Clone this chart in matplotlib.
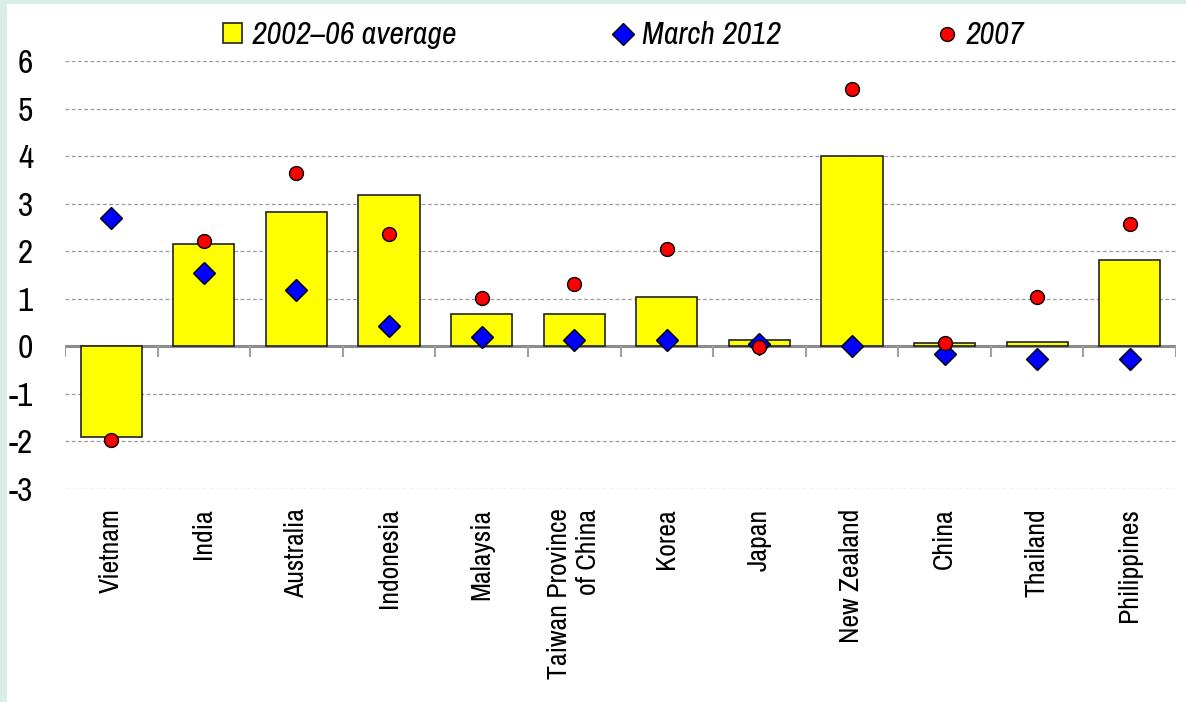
import numpy as np
import matplotlib.pyplot as plt
from matplotlib.patches import Rectangle

plt.rcParams['font.family'] = ['Archivo Narrow', 'DejaVu Sans']
plt.rcParams['axes.unicode_minus'] = False

countries = ['Vietnam', 'India', 'Australia', 'Indonesia', 'Malaysia',
             'Taiwan Province\nof China', 'Korea', 'Japan', 'New Zealand',
             'China', 'Thailand', 'Philippines']
avg_2002_06 = [-1.9, 2.15, 2.82, 3.18, 0.67, 0.69, 1.03, 0.13, 4.0, 0.07, 0.09, 1.81]
march_2012 = [2.69, 1.54, 1.18, 0.42, 0.19, 0.13, 0.13, 0.04, 0.0, -0.17, -0.27, -0.27]
y_2007 = [-1.96, 2.21, 3.64, 2.36, 1.01, 1.31, 2.04, -0.02, 5.41, 0.06, 1.04, 2.57]

x = np.arange(len(countries))

fig = plt.figure(figsize=(11.86, 7.02), dpi=100)
fig.patch.set_facecolor('#d9efe6')
# white panel inside the mint border
fig.add_artist(Rectangle((7 / 1186, 0), 1, 1 - 4 / 702, transform=fig.transFigure,
                         facecolor='white', edgecolor='none', zorder=0))

ax = fig.add_axes([65 / 1186, 1 - 489 / 702, (1176 - 65) / 1186, (489 - 61) / 702])
ax.set_facecolor('none')

bars = ax.bar(x, avg_2002_06, width=0.66, color='#ffff00', edgecolor='#222222',
              linewidth=1.2, zorder=3, label='2002\u201306 average')
dia, = ax.plot(x, march_2012, linestyle='none', marker='D', markersize=11,
               markerfacecolor='#0000ff', markeredgecolor='black', markeredgewidth=1,
               zorder=4, label='March 2012')
dots, = ax.plot(x, y_2007, linestyle='none', marker='o', markersize=10,
                markerfacecolor='#ff0000', markeredgecolor='black', markeredgewidth=1,
                zorder=5, label='2007')

# zero line with category separators
ax.axhline(0, color='#8c8c8c', linewidth=2.2, zorder=2)
ax.vlines(np.arange(len(countries) + 1) - 0.5, -0.22, 0, color='#a0a0a0',
          linewidth=1.5, zorder=2)

ax.set_xlim(-0.5, len(countries) - 0.5)
ax.set_ylim(-3, 6)
ax.set_yticks(range(-3, 7))
ax.yaxis.grid(True, linestyle=(0, (3, 2)), color='#9a9a9a', linewidth=0.9, zorder=1)
ax.tick_params(axis='y', length=0, pad=23, labelsize=24)
ax.set_xticks(x)
ax.set_xticklabels(countries, rotation=90, fontsize=20, multialignment='right')
ax.tick_params(axis='x', length=0, pad=14)
for s in ax.spines.values():
    s.set_visible(False)

leg = ax.legend(handles=[bars, dia, dots], loc='center', bbox_to_anchor=(0.503, 1.06),
                ncol=3, frameon=False, prop={'style': 'italic', 'size': 23},
                columnspacing=4.9, handletextpad=0.3, handlelength=0.6,
                handleheight=0.6, borderaxespad=0)

plt.savefig('out.png', dpi=100, facecolor=fig.get_facecolor())
